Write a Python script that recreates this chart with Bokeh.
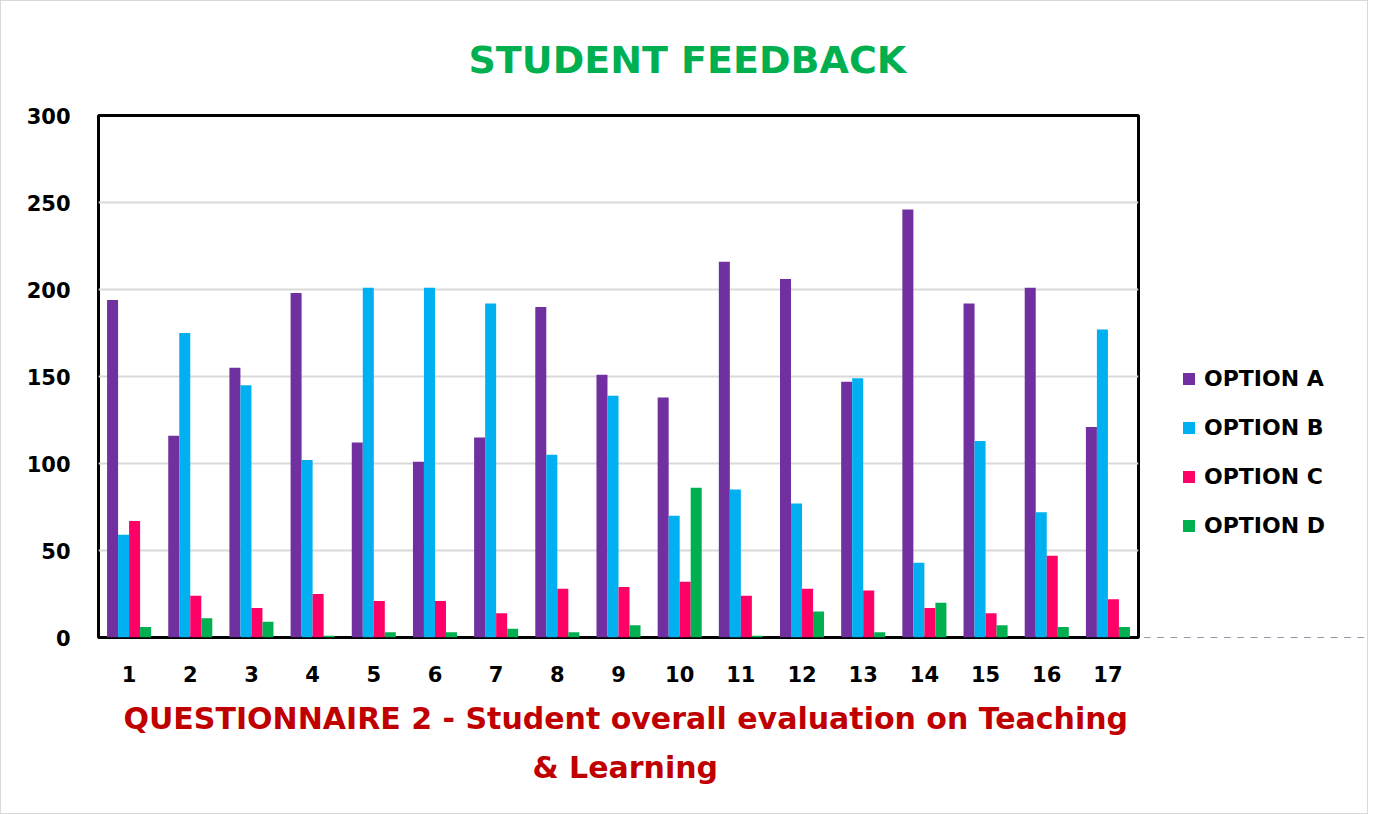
from bokeh.plotting import figure
from bokeh.models import FactorRange, Range1d, ColumnDataSource, Legend, LegendItem, Title
from bokeh.layouts import row
from bokeh.transform import dodge
from bokeh.embed import file_html
from bokeh.resources import INLINE

categories = [str(i) for i in range(1, 18)]
option_a = [194, 116, 155, 198, 112, 101, 115, 190, 151, 138, 216, 206, 147, 246, 192, 201, 121]
option_b = [59, 175, 145, 102, 201, 201, 192, 105, 139, 70, 85, 77, 149, 43, 113, 72, 177]
option_c = [67, 24, 17, 25, 21, 21, 14, 28, 29, 32, 24, 28, 27, 17, 14, 47, 22]
option_d = [6, 11, 9, 1, 3, 3, 5, 3, 7, 86, 1, 15, 3, 20, 7, 6, 6]
series_names = ["OPTION A", "OPTION B", "OPTION C", "OPTION D"]
colors = ["#7030a0", "#00b0f0", "#ff0066", "#00b050"]
y_ticks = [0, 50, 100, 150, 200, 250, 300]

FONT = "DejaVu Sans"

source = ColumnDataSource(dict(cat=categories, a=option_a, b=option_b, c=option_c, d=option_d))

p = figure(x_range=FactorRange(*categories, range_padding=0), y_range=Range1d(0, 300),
           width=1139, height=812, output_backend="svg", toolbar_location=None,
           min_border_left=97, min_border_right=2, min_border_top=113, min_border_bottom=176)

p.title.text = "STUDENT FEEDBACK"
p.title.text_font = FONT
p.title.text_font_size = "38px"
p.title.text_font_style = "bold"
p.title.text_color = "#00b050"
p.title.align = "left"
p.title.offset = 370
p.title.standoff = 68

offsets = [-0.27, -0.09, 0.09, 0.27]
keys = ["a", "b", "c", "d"]
for k, off, col in zip(keys, offsets, colors):
    p.vbar(x=dodge("cat", off, range=p.x_range), top=k, width=0.18, source=source,
           fill_color=col, line_color=None)

p.outline_line_color = "black"
p.outline_line_width = 3

p.xgrid.grid_line_color = None
p.ygrid.grid_line_color = "#d9d9d9"
p.ygrid.grid_line_width = 2
p.yaxis.ticker = y_ticks

for ax in (p.xaxis[0], p.yaxis[0]):
    ax.axis_line_color = None
    ax.major_tick_line_color = None
    ax.minor_tick_line_color = None
    ax.major_label_text_font = FONT
    ax.major_label_text_font_style = "bold"
    ax.major_label_text_font_size = "21px"
    ax.major_label_text_color = "black"
p.yaxis.major_label_standoff = 22
p.xaxis.major_label_standoff = 22

t1 = Title(text="QUESTIONNAIRE 2 - Student overall evaluation on Teaching", align="left",
           text_font=FONT, text_font_size="30px", text_font_style="bold", text_color="#c00000",
           standoff=29, offset=25)
t2 = Title(text="& Learning", align="left",
           text_font=FONT, text_font_size="30px", text_font_style="bold", text_color="#c00000",
           standoff=-6, offset=434)
p.add_layout(t1, "below")
p.add_layout(t2, "below")

# legend panel (its frame is aligned with the chart frame by the row layout)
p2 = figure(width=227, height=812, x_range=FactorRange(*categories), y_range=Range1d(1000, 1001),
            output_backend="svg", toolbar_location=None, min_border=0,
            x_axis_location=None, y_axis_location=None)
p2.grid.visible = False
p2.outline_line_color = None
legend_renderers = []
for k, col in zip(keys, colors):
    r = p2.vbar(x="cat", top=k, width=0.5, source=source, fill_color=col, line_color=None)
    legend_renderers.append(r)

legend = Legend(items=[LegendItem(label=n, renderers=[r]) for n, r in zip(series_names, legend_renderers)],
                location=(41, 99), orientation="vertical")
legend.label_text_font = FONT
legend.label_text_font_style = "bold"
legend.label_text_font_size = "22px"
legend.label_text_color = "black"
legend.glyph_width = 15
legend.glyph_height = 15
legend.label_height = 20
legend.spacing = 24
legend.padding = 0
legend.margin = 0
legend.label_standoff = 8
legend.border_line_color = None
legend.background_fill_alpha = 0
p2.add_layout(legend, "center")

layout = row(p, p2, spacing=0, styles={"border": "1px solid #d9d9d9"})

open("out.html", "w").write(file_html(layout, INLINE))
